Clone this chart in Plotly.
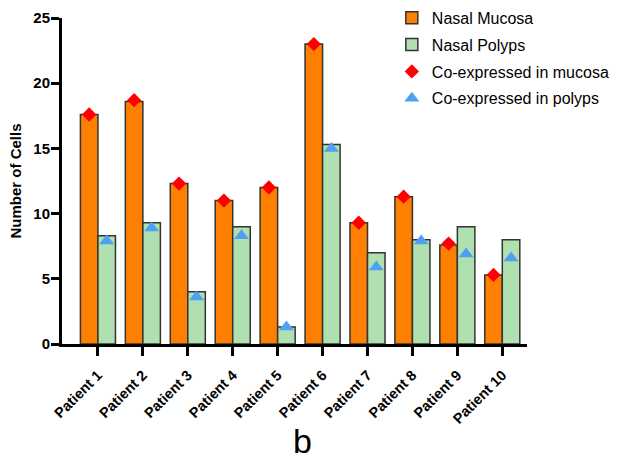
import plotly.graph_objects as go

patients = ["Patient 1", "Patient 2", "Patient 3", "Patient 4", "Patient 5",
            "Patient 6", "Patient 7", "Patient 8", "Patient 9", "Patient 10"]
mucosa = [17.6, 18.6, 12.3, 11.0, 12.0, 23.0, 9.3, 11.3, 7.6, 5.3]
polyps = [8.3, 9.3, 4.0, 9.0, 1.3, 15.3, 7.0, 8.0, 9.0, 8.0]
coexp_mucosa = [17.6, 18.7, 12.3, 11.0, 12.0, 23.0, 9.3, 11.3, 7.7, 5.3]
coexp_polyps = [7.9, 8.9, 3.6, 8.3, 1.3, 15.0, 5.9, 7.9, 6.9, 6.6]

FONT = "Arial, Liberation Sans, sans-serif"

fig = go.Figure()
fig.add_trace(go.Bar(x=patients, y=mucosa, name="Nasal Mucosa", offsetgroup="a",
                     marker=dict(color="#FF8000", line=dict(color="#333333", width=1.5)),
                     legendgroup="g1"))
fig.add_trace(go.Bar(x=patients, y=polyps, name="Nasal Polyps", offsetgroup="b",
                     marker=dict(color="#B0DFB0", line=dict(color="#333333", width=1.5)),
                     legendgroup="g2"))
fig.add_trace(go.Scatter(x=patients, y=coexp_mucosa, name="Co-expressed in mucosa",
                         mode="markers", offsetgroup="a",
                         marker=dict(symbol="diamond", size=11, color="#FF0000"),
                         legendgroup="g3"))
fig.add_trace(go.Scatter(x=patients, y=coexp_polyps, name="Co-expressed in polyps",
                         mode="markers", offsetgroup="b",
                         marker=dict(symbol="triangle-up", size=13, color="#4FA0F5"),
                         legendgroup="g4"))

fig.update_layout(
    width=619, height=461,
    margin=dict(l=62, r=92, t=18, b=117, autoexpand=False),
    paper_bgcolor="white", plot_bgcolor="white",
    barmode="group", bargap=0.22, bargroupgap=0,
    scattermode="group", scattergap=0.22,
    font=dict(family=FONT, color="black"),
    showlegend=True,
    legend=dict(x=0.633, y=0.998, xref="container", yref="container",
                xanchor="left", yanchor="top",
                font=dict(size=16, family=FONT, color="black"),
                tracegroupgap=3, bgcolor="rgba(0,0,0,0)"),
    annotations=[dict(text="b", x=0.517, y=0.0, xref="paper", yref="paper",
                      xanchor="center", yanchor="bottom", showarrow=False,
                      font=dict(size=34, family=FONT, color="black"),
                      yshift=-118)],
)
fig.update_xaxes(
    range=[-0.8, 9.55], showline=True, linecolor="black", linewidth=3,
    ticks="outside", ticklen=9, tickwidth=3, tickcolor="black",
    tickangle=-45, tickfont=dict(size=14.5, family=FONT, weight="bold"),
    ticklabelstandoff=5,
    showgrid=False, zeroline=False, automargin=False,
)
fig.update_yaxes(
    range=[0, 25], tickvals=[0, 5, 10, 15, 20, 25], showline=True, linecolor="black",
    linewidth=3, ticks="outside", ticklen=8, tickwidth=3, tickcolor="black",
    tickfont=dict(size=15, family=FONT, weight="bold"),
    ticklabelstandoff=-2,
    title=dict(text="Number of Cells", font=dict(size=15, family=FONT, weight="bold"), standoff=9),
    showgrid=False, zeroline=False, automargin=False,
)

fig.write_html("out.html", config={"displayModeBar": False},
               post_script="document.body.style.margin='0';document.body.style.padding='0';")
